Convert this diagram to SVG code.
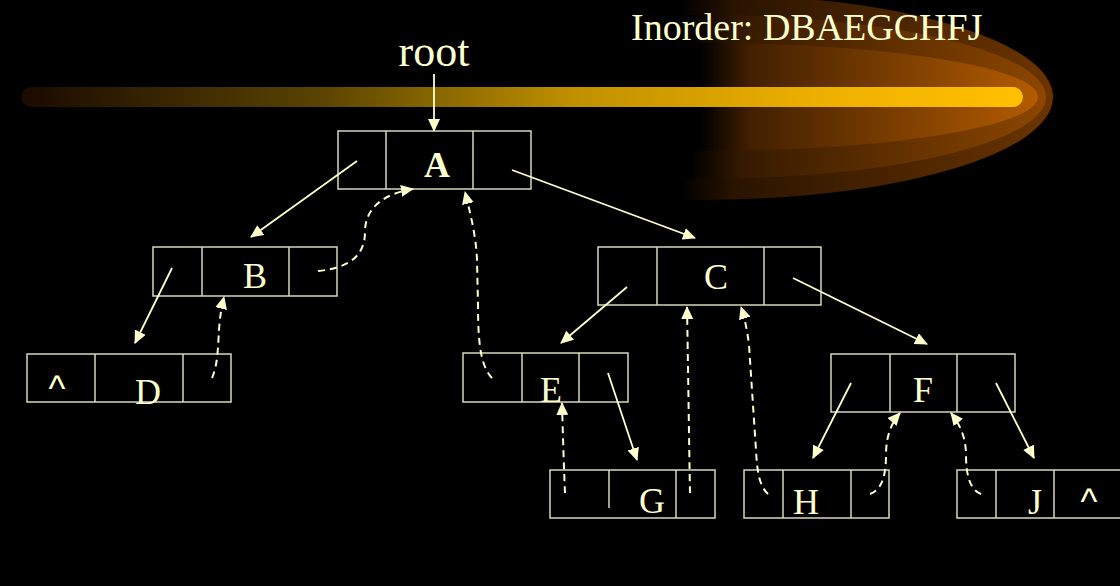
<svg xmlns="http://www.w3.org/2000/svg" width="1120" height="586" viewBox="0 0 1120 586">
<style>
.box{fill:none;stroke:#D8D8B8;stroke-width:1.5}
.lbl{font-family:"Liberation Serif","Times New Roman",serif;font-size:36px;fill:#FFFFCC;text-anchor:middle}
.caret{font-family:"Liberation Sans",Arial,sans-serif;font-size:36px;fill:#FFFFCC;text-anchor:middle}
.ptr{fill:none;stroke:#FFFFCC;stroke-width:1.8;marker-end:url(#ah)}
.thr{fill:none;stroke:#FFFFCC;stroke-width:2;stroke-dasharray:7,5;marker-end:url(#ah)}
</style>
<defs>
<marker id="ah" markerWidth="14" markerHeight="12" refX="12" refY="6" orient="auto" markerUnits="userSpaceOnUse">
<path d="M0,0 L13,6 L0,12 Z" fill="#FFFFCC"/>
</marker>
<linearGradient id="bar" gradientUnits="userSpaceOnUse" x1="22" y1="0" x2="1023" y2="0">
<stop offset="0" stop-color="#1a0a00"/>
<stop offset="0.3" stop-color="#5a4400"/>
<stop offset="0.55" stop-color="#c09000"/>
<stop offset="0.8" stop-color="#eeb000"/>
<stop offset="1" stop-color="#ffc000"/>
</linearGradient>
<linearGradient id="g1" gradientUnits="userSpaceOnUse" x1="680" y1="0" x2="1050" y2="0">
<stop offset="0" stop-color="#000000"/>
<stop offset="0.15" stop-color="#2a1400"/>
<stop offset="1" stop-color="#6a3400"/>
</linearGradient>
<linearGradient id="g2" gradientUnits="userSpaceOnUse" x1="690" y1="0" x2="1045" y2="0">
<stop offset="0" stop-color="#000000"/>
<stop offset="0.15" stop-color="#361a00"/>
<stop offset="1" stop-color="#8c4600"/>
</linearGradient>
<linearGradient id="g3" gradientUnits="userSpaceOnUse" x1="700" y1="0" x2="1040" y2="0">
<stop offset="0" stop-color="#000000"/>
<stop offset="0.15" stop-color="#422000"/>
<stop offset="1" stop-color="#b45c00"/>
</linearGradient>
<clipPath id="gc"><rect x="678" y="-10" width="450" height="220"/></clipPath>
</defs>
<rect x="0" y="0" width="1120" height="586" fill="#000000"/>
<g id="banner">
<g clip-path="url(#gc)">
<ellipse cx="700" cy="97" rx="353" ry="103" fill="url(#g1)"/>
<ellipse cx="700" cy="97" rx="346" ry="82" fill="url(#g2)"/>
<ellipse cx="700" cy="97" rx="338" ry="54" fill="url(#g3)"/>
</g>
<line x1="31" y1="97" x2="1013" y2="97" stroke="url(#bar)" stroke-width="20" stroke-linecap="round"/>
</g>
<text id="title" x="631" y="40" font-family="Liberation Serif,'Times New Roman',serif" font-size="38" fill="#FFFFCC">Inorder: DBAEGCHFJ</text>
<text id="root" x="434" y="66" font-family="Liberation Serif,'Times New Roman',serif" font-size="44" fill="#FFFFCC" text-anchor="middle">root</text>
<g id="nodeA">
<rect class="box" x="338" y="131" width="193" height="58"/>
<line class="box" x1="386" y1="131" x2="386" y2="189"/>
<line class="box" x1="473" y1="131" x2="473" y2="189"/>
<text class="lbl" x="437" y="177" font-weight="bold">A</text>
</g>
<g id="nodeB">
<rect class="box" x="153" y="247" width="184" height="49"/>
<line class="box" x1="202" y1="247" x2="202" y2="296"/>
<line class="box" x1="289" y1="247" x2="289" y2="296"/>
<text class="lbl" x="255" y="288">B</text>
</g>
<g id="nodeC">
<rect class="box" x="598" y="247" width="223" height="58"/>
<line class="box" x1="657" y1="247" x2="657" y2="305"/>
<line class="box" x1="764" y1="247" x2="764" y2="305"/>
<text class="lbl" x="716" y="289">C</text>
</g>
<g id="nodeD">
<rect class="box" x="27" y="354" width="204" height="48"/>
<line class="box" x1="95" y1="354" x2="95" y2="402"/>
<line class="box" x1="183" y1="354" x2="183" y2="402"/>
<text class="caret" x="57" y="401">^</text>
<text class="lbl" x="148" y="404">D</text>
</g>
<g id="nodeE">
<rect class="box" x="463" y="353" width="165" height="49"/>
<line class="box" x1="522" y1="353" x2="522" y2="402"/>
<line class="box" x1="579" y1="353" x2="579" y2="402"/>
<text class="lbl" x="551" y="402">E</text>
</g>
<g id="nodeF">
<rect class="box" x="831" y="354" width="184" height="58"/>
<line class="box" x1="890" y1="354" x2="890" y2="412"/>
<line class="box" x1="957" y1="354" x2="957" y2="412"/>
<text class="lbl" x="923" y="402">F</text>
</g>
<g id="nodeG">
<rect class="box" x="550" y="470" width="165" height="48"/>
<line class="box" x1="609" y1="470" x2="609" y2="508"/>
<line class="box" x1="676" y1="470" x2="676" y2="518"/>
<text class="lbl" x="652" y="513">G</text>
</g>
<g id="nodeH">
<rect class="box" x="744" y="470" width="145" height="48"/>
<line class="box" x1="783" y1="470" x2="783" y2="518"/>
<line class="box" x1="851" y1="470" x2="851" y2="518"/>
<text class="lbl" x="806" y="514">H</text>
</g>
<g id="nodeJ">
<rect class="box" x="957" y="470" width="165" height="48"/>
<line class="box" x1="996" y1="470" x2="996" y2="518"/>
<line class="box" x1="1054" y1="470" x2="1054" y2="518"/>
<text class="lbl" x="1035" y="514">J</text>
<text class="caret" x="1089" y="514">^</text>
</g>
<g id="connectors">
<line class="ptr" x1="434" y1="74" x2="434" y2="131"/>
<line class="ptr" x1="357" y1="161" x2="251" y2="237"/>
<line class="ptr" x1="512" y1="170" x2="695" y2="238"/>
<line class="ptr" x1="172" y1="268" x2="135" y2="343"/>
<line class="ptr" x1="627" y1="287" x2="561" y2="343"/>
<line class="ptr" x1="793" y1="278" x2="927" y2="344"/>
<line class="ptr" x1="608" y1="373" x2="637" y2="460"/>
<line class="ptr" x1="851" y1="383" x2="813" y2="458"/>
<line class="ptr" x1="996" y1="383" x2="1034" y2="458"/>
<path class="thr" d="M318,271 C350,268 365,255 365,232 C365,205 388,193 413,189"/>
<path class="thr" d="M492,378 C481,366 478,345 478,305 L477,260 C476,235 470,212 465,192"/>
<path class="thr" d="M212,378 C218,365 218,345 219,330 C220,315 222,305 224,297"/>
<path class="thr" d="M565,493 C564,470 563,440 562,403"/>
<path class="thr" d="M690,493 C689,440 688,360 687,307"/>
<path class="thr" d="M768,494 C759,486 757,470 756,450 L749,345 C747,328 744,316 741,307"/>
<path class="thr" d="M870,494 C882,490 886,475 886,455 C886,435 892,422 900,413"/>
<path class="thr" d="M981,494 C970,490 966,475 966,455 C966,435 958,422 951,413"/>
</g>
</svg>
